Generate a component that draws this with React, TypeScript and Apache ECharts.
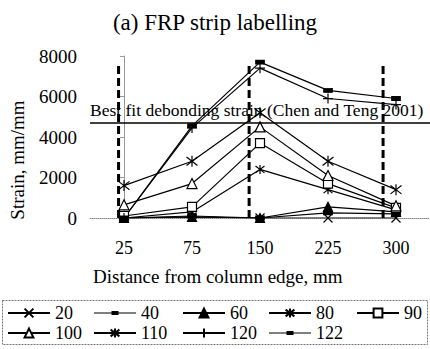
import React, { useEffect, useRef } from 'react';
import * as echarts from 'echarts';

const categories = ['25', '75', '150', '225', '300'];
const seriesNames = ['20', '40', '60', '80', '90', '100', '110', '120', '122'];
const s20 = [0, 50, 0, 0, 0];
const s40 = [0, 100, 0, 250, 200];
const s60 = [0, 50, 0, 550, 300];
const s80 = [0, 300, 2400, 1400, 400];
const s90 = [100, 550, 3700, 1700, 500];
const s100 = [650, 1700, 4500, 2100, 600];
const s110 = [1600, 2800, 5200, 2800, 1400];
const s120 = [0, 4450, 7400, 5900, 5600];
const s122 = [0, 4550, 7700, 6300, 5900];
const yMin = 0;
const yMax = 8000;
const yInterval = 2000;
const debondStrain = 4700;
const debondLabel = 'Best fit debonding strain (Chen and Teng 2001)';
// dashed vertical lines, in category-index units
const edgeLines = [-0.08, 1.84, 3.81];
const edgeLineTop = 7700;

const FONT = "'Liberation Serif', 'Times New Roman', serif";
const CROSS = 'path://M0,0L10,10M10,0L0,10';
const STAR = 'path://M0,0L10,10M10,0L0,10M5,-1.5L5,11.5';
const PLUS = 'path://M5,0L5,10M0,5L10,5';
// legend icon: thin line with a small filled dash; tiny corner triangles fix the bounding box
const DASH_ICON =
  'path://M0,0L0.02,0L0,0.02ZM42,11L41.98,11L42,10.98ZM0,4.9L42,4.9L42,6.1L0,6.1ZM17.5,3.5L24.5,3.5L24.5,7.5L17.5,7.5Z';

const seriesData = [s20, s40, s60, s80, s90, s100, s110, s120, s122];
const symbols: any[] = [
  { symbol: CROSS, size: 9, fill: '#000' },
  { symbol: 'rect', size: [8, 4], fill: '#000', icon: DASH_ICON },
  { symbol: 'triangle', size: 9, fill: '#000' },
  { symbol: STAR, size: 9, fill: '#000' },
  { symbol: 'rect', size: 9, fill: '#fff' },
  { symbol: 'triangle', size: 10, fill: '#fff' },
  { symbol: STAR, size: 11, fill: '#000' },
  { symbol: PLUS, size: 10, fill: '#000' },
  { symbol: 'rect', size: [8, 4], fill: '#000', icon: DASH_ICON },
];

export default function App() {
  const ref = useRef<HTMLDivElement>(null);
  useEffect(() => {
    if (!ref.current) return;
    const chart = echarts.init(ref.current, undefined, { renderer: 'svg' });
    const lineSeries = seriesNames.map((name, i) => ({
      name,
      type: 'line',
      data: seriesData[i],
      symbol: symbols[i].symbol,
      symbolSize: symbols[i].size,
      lineStyle: { color: '#000', width: 1.2 },
      itemStyle: { color: symbols[i].fill, borderColor: '#000', borderWidth: 1.2 },
      emphasis: { disabled: true },
      z: 4,
    }));
    const edgeSeries = edgeLines.map((x, i) => ({
      name: 'edge' + i,
      type: 'line',
      xAxisIndex: 1,
      yAxisIndex: 0,
      data: [[x, 0], [x, edgeLineTop]],
      symbol: 'none',
      silent: true,
      lineStyle: { color: '#000', width: 3, type: [8, 4] },
      z: 3,
      markLine:
        i === 0
          ? {
              silent: true,
              symbol: ['none', 'none'],
              data: [{ yAxis: debondStrain }],
              lineStyle: { color: '#000', type: 'solid', width: 1.5 },
              label: {
                position: 'insideStartTop',
                formatter: debondLabel,
                color: '#000',
                fontSize: 17.5,
                fontFamily: FONT,
                distance: [0, 4],
              },
            }
          : undefined,
    }));
    const colX = [7, 93, 182, 268, 356];
    const legends = colX.map((x, i) => ({
      data: [i, i + 5]
        .filter((k) => k < seriesNames.length)
        .map((k) =>
          symbols[k].icon
            ? {
                name: seriesNames[k],
                icon: symbols[k].icon,
                itemStyle: { color: '#000', borderWidth: 0, borderColor: 'transparent' },
              }
            : { name: seriesNames[k] }
        ),
      orient: 'vertical',
      left: x,
      top: 304,
      padding: 0,
      itemWidth: 42,
      itemHeight: 11,
      itemGap: 2,
      selectedMode: false,
      textStyle: { fontSize: 18, lineHeight: 18, fontFamily: FONT, color: '#000' },
    }));
    chart.setOption({
      animation: false,
      backgroundColor: '#fff',
      title: [
        {
          text: '(a) FRP strip labelling',
          left: 'center',
          top: 11,
          padding: 0,
          textStyle: { fontSize: 23, fontWeight: 'normal', fontFamily: FONT, color: '#000' },
        },
        {
          text: 'Distance from column edge, mm',
          left: 93,
          top: 267,
          padding: 0,
          textStyle: { fontSize: 19, fontWeight: 'normal', fontFamily: FONT, color: '#000' },
        },
      ],
      legend: legends,
      grid: { left: 90, top: 56, width: 342, height: 162 },
      xAxis: [
        {
          type: 'category',
          data: categories,
          boundaryGap: true,
          axisLine: { lineStyle: { color: '#888', type: 'dotted', width: 1 } },
          axisTick: { show: false },
          axisLabel: { color: '#000', fontSize: 18, fontFamily: FONT, margin: 21 },
        },
        { type: 'value', min: -0.5, max: 4.5, show: false },
      ],
      yAxis: {
        type: 'value',
        min: yMin,
        max: yMax,
        interval: yInterval,
        axisLine: { show: true, lineStyle: { color: '#999', width: 1 } },
        axisTick: { show: true, length: 4, lineStyle: { color: '#999' } },
        splitLine: { show: false },
        axisLabel: {
          color: '#000',
          fontSize: 19,
          fontFamily: FONT,
          margin: 13,
          formatter: (v: number) => String(v),
        },
      },
      graphic: [
        {
          type: 'text',
          x: 17,
          y: 160,
          rotation: Math.PI / 2,
          style: {
            text: 'Strain, mm/mm',
            fontSize: 19,
            fontFamily: FONT,
            fill: '#000',
            align: 'center',
            verticalAlign: 'middle',
          },
        },
        {
          type: 'rect',
          shape: { x: 2.5, y: 300.5, width: 425, height: 44 },
          style: { fill: 'none', stroke: '#777', lineWidth: 1, lineDash: [2, 1] },
          z: -1,
        },
      ],
      series: [...edgeSeries, ...lineSeries],
    });
    return () => chart.dispose();
  }, []);
  return <div ref={ref} style={{ position: 'fixed', left: 0, top: 0, width: 430, height: 349 }} />;
}
